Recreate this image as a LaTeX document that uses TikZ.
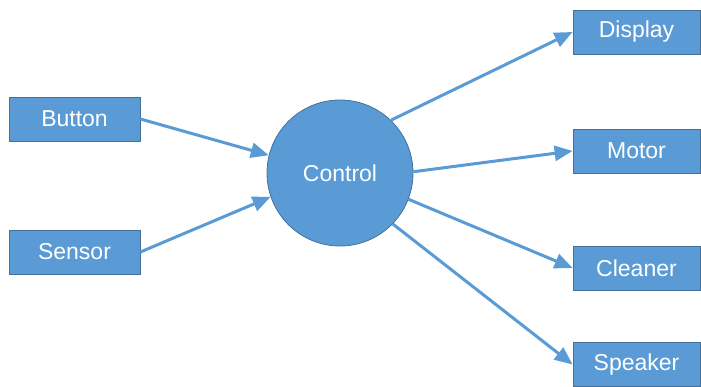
\documentclass[tikz,border=0pt]{standalone}
\usepackage{fontspec}
\setmainfont{Liberation Sans}
\usetikzlibrary{arrows.meta}

\definecolor{boxblue}{HTML}{5B9BD5}
\definecolor{edgeblue}{HTML}{41719C}

\begin{document}
\begin{tikzpicture}[x=1pt,y=1pt,
    block/.style={rectangle,fill=boxblue,draw=edgeblue,line width=0.8pt,
        minimum width=131pt,minimum height=44pt,inner sep=0pt,
        text=white,font=\fontsize{23}{26}\selectfont},
    hub/.style={circle,fill=boxblue,draw=edgeblue,line width=0.8pt,
        minimum size=146pt,inner sep=0pt,
        text=white,font=\fontsize{23}{26}\selectfont},
    link/.style={-{Triangle[length=18pt,width=15pt]},line width=3pt,draw=boxblue}]
    \useasboundingbox (0,0) rectangle (701,386);
    % Draw inputs and the control unit
    \node[block] (button) at (74.5,267) {Button};
    \node[block] (sensor) at (74.5,134) {Sensor};
    \node[hub] (control) at (340,213) {Control};
    % Draw outputs
    \node[block,minimum width=127pt] (display) at (636.5,354) {Display};
    \node[block,minimum width=127pt] (motor) at (636.5,235) {Motor};
    \node[block,minimum width=127pt] (cleaner) at (636.5,118) {Cleaner};
    \node[block,minimum width=127pt] (speaker) at (636.5,21.5) {Speaker};
    % Draw arrows
    \draw[link] (button.east) -- (control.166);
    \draw[link] (sensor.east) -- (control.199);
    \draw[link] (control.46) -- (display.west);
    \draw[link] (control.1) -- (motor.west);
    \draw[link] (control.-21) -- (cleaner.west);
    \draw[link] (control.-44) -- (speaker.west);
\end{tikzpicture}
\end{document}
